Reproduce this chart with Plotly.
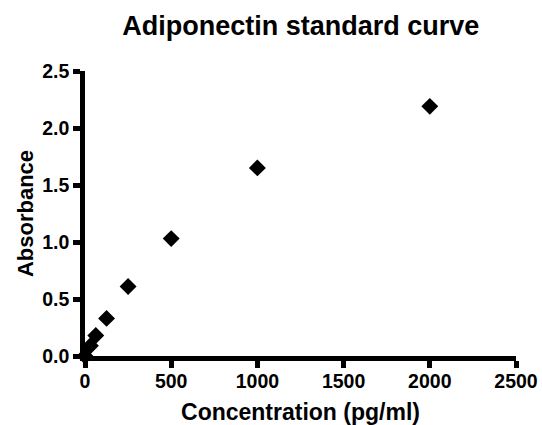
import plotly.graph_objects as go

concentration = [0, 31.25, 62.5, 125, 250, 500, 1000, 2000]
absorbance = [0.0, 0.09, 0.18, 0.33, 0.61, 1.03, 1.65, 2.19]
x_ticks = [0, 500, 1000, 1500, 2000, 2500]
y_ticks = [0.0, 0.5, 1.0, 1.5, 2.0, 2.5]

FONT = "Liberation Sans"

fig = go.Figure(go.Scatter(
    x=concentration, y=absorbance, mode="markers",
    marker=dict(symbol="diamond", size=13, color="black"),
    cliponaxis=False, showlegend=False,
))

fig.update_layout(
    width=542, height=425,
    margin=dict(l=85, r=26, t=71, b=69, autoexpand=False),
    paper_bgcolor="white", plot_bgcolor="white",
    title=dict(text="<b>Adiponectin standard curve</b>", x=0.555, xanchor="center",
               y=0.94, yanchor="middle",
               font=dict(family=FONT, size=27, color="black")),
    font=dict(family=FONT, color="black"),
)
axis_common = dict(
    showline=True, linecolor="black", linewidth=4.5,
    ticks="outside", tickwidth=4.5, ticklen=7, tickcolor="black",
    showgrid=False, zeroline=False, automargin=False,
    tickfont=dict(family=FONT, size=19.5, color="black", weight="bold"),
)
fig.update_xaxes(range=[0, 2500], tickvals=x_ticks,
                 ticktext=[f"<b>{v}</b>" for v in x_ticks],
                 ticklabelstandoff=-3,
                 title=dict(text="<b>Concentration (pg/ml)</b>", standoff=18,
                            font=dict(family=FONT, size=23, color="black")),
                 **axis_common)
fig.update_yaxes(range=[0, 2.5], tickvals=y_ticks,
                 ticktext=[f"<b>{v:.1f}</b>" for v in y_ticks],
                 title=dict(text="<b>Absorbance</b>", standoff=4,
                            font=dict(family=FONT, size=22, color="black")),
                 **axis_common)

fig.write_html("out.html")
